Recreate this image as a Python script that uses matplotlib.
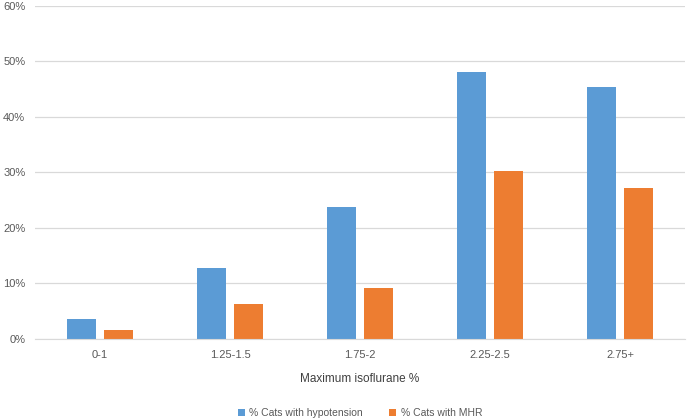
import numpy as np
import matplotlib.pyplot as plt
from matplotlib.ticker import PercentFormatter

categories = ["0-1", "1.25-1.5", "1.75-2", "2.25-2.5", "2.75+"]
hypotension = [3.6, 12.7, 23.7, 48.0, 45.4]
mhr = [1.7, 6.3, 9.1, 30.2, 27.2]

plt.rcParams.update({"font.family": ["Liberation Sans", "DejaVu Sans"], "font.size": 8})
fig = plt.figure(figsize=(6.87, 4.2), dpi=100)
ax = fig.add_axes([0.051, 0.193, 0.946, 0.793])

x = np.arange(len(categories))
w = 0.22
ax.bar(x - 0.142, hypotension, w, color="#5B9BD5", label="% Cats with hypotension", zorder=2)
ax.bar(x + 0.142, mhr, w, color="#ED7D31", label="% Cats with MHR", zorder=2)

ax.set_xlim(-0.5, len(categories) - 0.5)
ax.set_ylim(0, 60)
ax.set_yticks(range(0, 61, 10))
ax.yaxis.set_major_formatter(PercentFormatter(decimals=0))
ax.set_xticks(x, categories)
ax.grid(axis="y", color="#D9D9D9", lw=0.9, zorder=0)
for s in ("top", "right", "left"):
    ax.spines[s].set_visible(False)
ax.spines["bottom"].set_color("#D9D9D9")
ax.tick_params(length=0, colors="#595959", labelsize=8)
ax.tick_params(axis="x", pad=8)
ax.tick_params(axis="y", pad=7)
ax.set_xlabel("Maximum isoflurane %", fontsize=8.5, color="#404040", labelpad=9)
ax.legend(loc="upper center", bbox_to_anchor=(0.5, -0.18), ncol=2, frameon=False,
          fontsize=7.5, handlelength=0.7, handleheight=0.7, columnspacing=2.5,
          handletextpad=0.4, labelcolor="#595959")

fig.savefig("out.png", dpi=100)
